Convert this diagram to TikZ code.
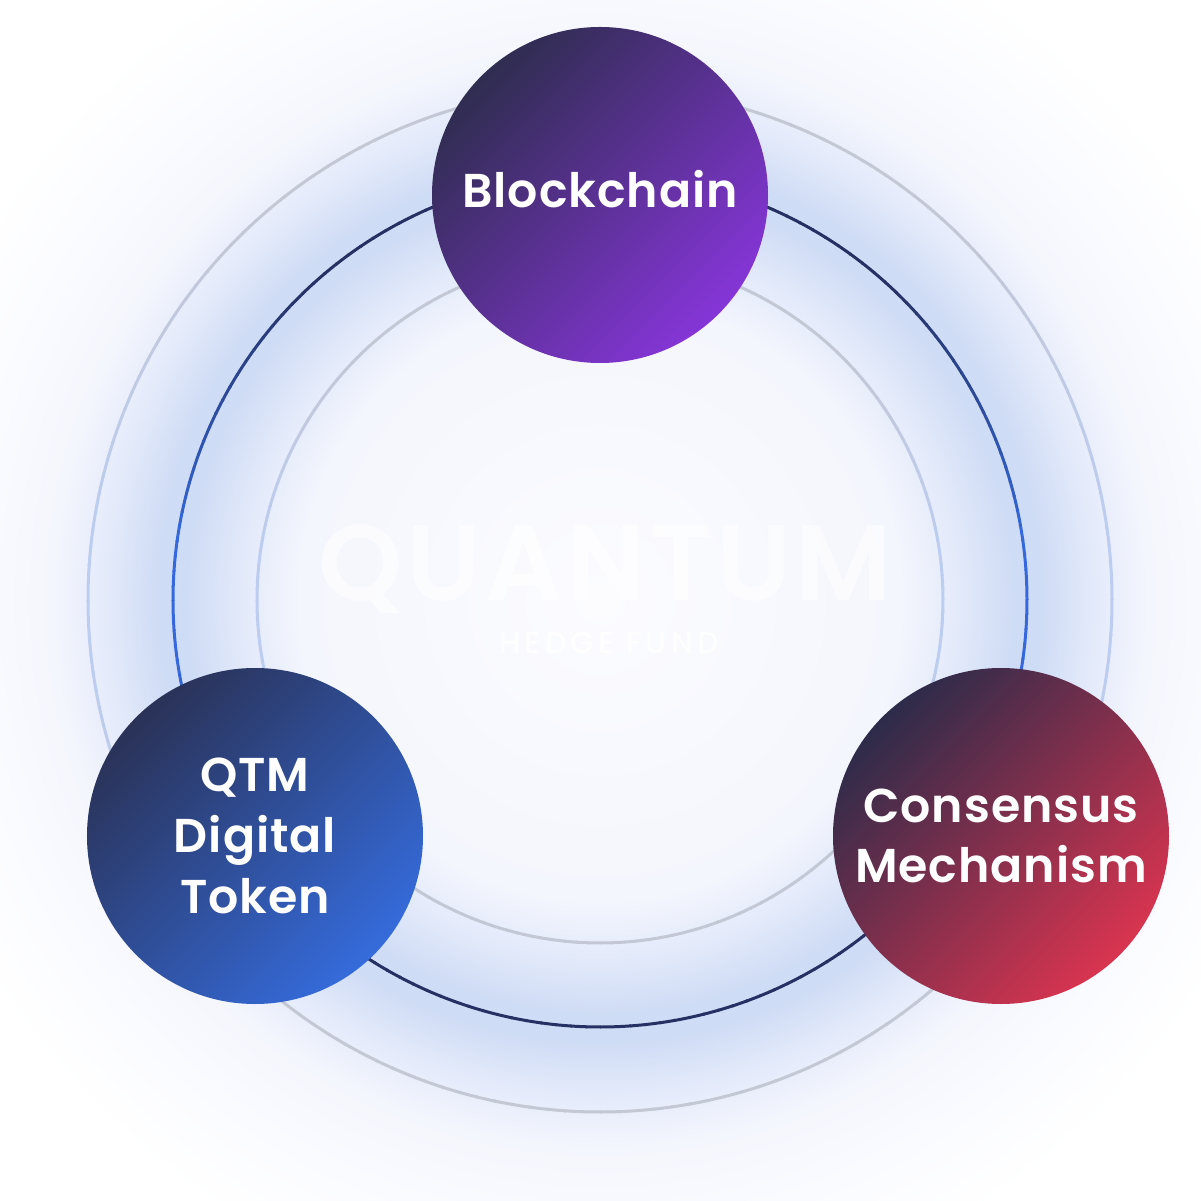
\documentclass[tikz,border=0pt]{standalone}
\usepackage{fontspec}
\newfontfamily\labelfont{Poppins SemiBold}[LetterSpace=2]
\newfontfamily\markfont{Poppins SemiBold}[LetterSpace=4]
\newfontfamily\fundfont{Poppins Medium}[LetterSpace=14]

\definecolor{ringnavy}{HTML}{263163}
\definecolor{ringblue}{HTML}{3468DC}
\definecolor{ringgray}{HTML}{C4C7D4}
\definecolor{ringsky}{HTML}{BCCDF1}
\definecolor{glowcore}{HTML}{FCFCFF}
\definecolor{glowpale}{HTML}{F4F6FD}
\definecolor{glowsoft}{HTML}{E2E9FA}
\definecolor{glowpeak}{HTML}{CFDCF5}
\definecolor{glowfade}{HTML}{FAFBFF}
\definecolor{chainA}{HTML}{2F2D50}
\definecolor{chainB}{HTML}{8635D8}
\definecolor{tokenA}{HTML}{2A3257}
\definecolor{tokenB}{HTML}{356BDB}
\definecolor{consA}{HTML}{2D2B4A}
\definecolor{consB}{HTML}{D9344F}

\pgfdeclareradialshading{ringglow}{\pgfpointorigin}{%
  color(0bp)=(glowcore); color(12.5bp)=(glowpale); color(15bp)=(glowsoft);
  color(17.2bp)=(glowpeak); color(18.4bp)=(glowpeak); color(20.4bp)=(glowsoft);
  color(22.8bp)=(glowpale); color(26bp)=(glowfade); color(30bp)=(white);
  color(50bp)=(white)}

\tikzset{
  bubble/.style={circle, minimum size=3.36cm, inner sep=0pt, text=white,
    align=center, font=\labelfont\fontsize{13.5}{17.3}\selectfont},
  ringline/.style={line width=0.85pt},
}

\begin{document}
\begin{tikzpicture}
  \useasboundingbox (-6.00,-6.01) rectangle (6.01,6.00);

  % glow behind the rings
  \shade[shading=ringglow] (-6.01,-6.01) rectangle (6.01,6.01);

  % watermark
  \node[text=white, text opacity=0.6, font=\markfont\fontsize{30.5}{32}\selectfont] (quantum) at (0.05,0.31) {QUANTUM};
  \node[text=white, text opacity=0.8, font=\fundfont\fontsize{8.6}{10}\selectfont] (fund) at (0.09,-0.43) {HEDGE FUND};

  % three rings
  \foreach \a in {0,2,...,358}{
    \pgfmathtruncatemacro\m{min(100,max(0,(abs(sin(\a+1))-0.15)*170))}
    \draw[ringline, ringgray!\m!ringsky] (\a:5.12) arc[start angle=\a, end angle=\a+2.2, radius=5.12];
    \draw[ringline, ringnavy!\m!ringblue] (\a:4.27) arc[start angle=\a, end angle=\a+2.2, radius=4.27];
    \draw[ringline, ringgray!\m!ringsky] (\a:3.43) arc[start angle=\a, end angle=\a+2.2, radius=3.43];
  }

  \node[bubble, top color=chainA, bottom color=chainB, shading angle=45, text depth=0.12cm] (chain) at (0,4.05) {Blockchain};
  \node[bubble, top color=tokenA, bottom color=tokenB, shading angle=45] (token) at (-3.45,-2.36) {QTM\\Digital\\Token};
  \node[bubble, top color=consA, bottom color=consB, shading angle=45] (consensus) at (4.01,-2.36) {Consensus\\Mechanism};
\end{tikzpicture}
\end{document}
